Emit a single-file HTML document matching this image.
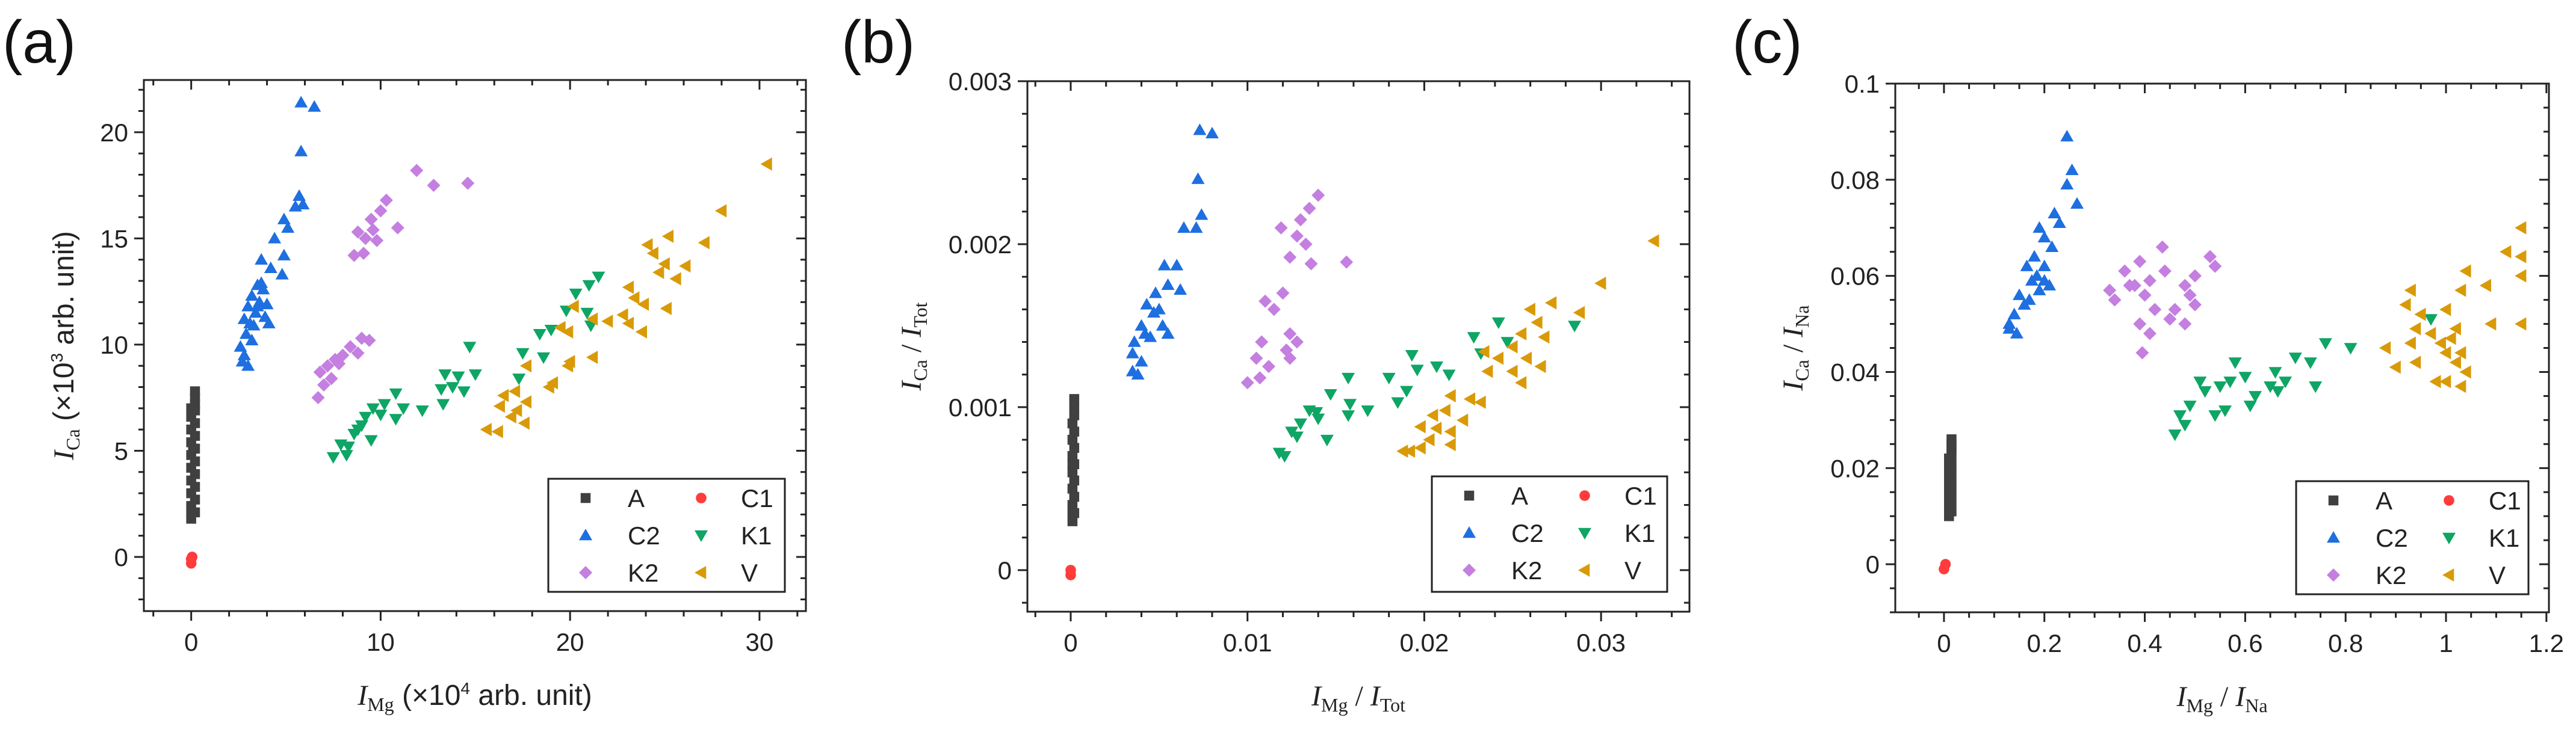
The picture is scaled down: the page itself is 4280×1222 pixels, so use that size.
<!DOCTYPE html>
<html><head><meta charset="utf-8"><style>
html,body{margin:0;padding:0;background:#fff;}
svg{display:block;font-family:"Liberation Sans",sans-serif;}
.ser{font-family:"Liberation Serif",serif;}
</style></head><body>
<svg id="fig" width="4280" height="1222" viewBox="0 0 4280 1222" xmlns="http://www.w3.org/2000/svg"></svg>
<script>
const seriesNames=["A","C1","C2","K1","K2","V"];
const seriesColors={A:"#404040",C1:"#ff3b3b",C2:"#1e6fe0",K1:"#0ea565",K2:"#c47fe0",V:"#d99a08"};
// Panel a data
const aA=[[0,1.8],[0.2,2.1],[0,2.4],[0.2,2.7],[0,3],[0.2,3.3],[0,3.6],[0.2,3.9],[0,4.2],[0.2,4.5],[0,4.8],[0.2,5.1],[0,5.4],[0.2,5.7],[0,6],[0.2,6.3],[0,6.6],[0.2,6.9],[0.2,7.2],[0.2,7.5],[0.2,7.8],[0,2.1],[0.1,5.1],[0,7.0]];
const aC1=[[0,-0.1],[0,-0.3],[0.05,0]];
const aC2=[[5.8,21.4],[6.5,21.2],[5.8,19.1],[5.7,17],[5.5,16.5],[5.9,16.6],[4.9,15.9],[5.1,15.5],[4.4,15],[4.9,14.2],[3.7,14],[4.2,13.6],[4.8,13.3],[3.5,12.8],[3.8,12.6],[3.2,12.3],[3.6,12],[3,11.8],[3.4,11.5],[3.9,11.3],[2.8,11.2],[3.3,10.9],[4.1,11],[2.9,10.5],[3.2,10.2],[2.6,9.9],[2.8,9.5],[2.7,9.2],[3,9],[3.5,11.8],[3.7,12.9],[4,11.9],[3.1,11]];
const aK1=[[21.5,13.2],[21,12.8],[20.3,12.4],[19.8,11.6],[20.9,11.5],[21.1,10.9],[19,10.7],[18.4,10.5],[17.5,9.6],[18.6,9.4],[14.7,9.9],[15,8.6],[13.4,8.6],[14.1,8.5],[13.8,8],[13.2,7.9],[14.4,7.8],[13.3,7.2],[10.8,7.7],[11.2,7],[10.2,7.2],[9.6,7],[10,6.7],[9.2,6.6],[10.8,6.5],[12.2,6.9],[9,6.2],[8.6,5.8],[9.5,5.5],[8.3,5.2],[7.9,5.3],[7.5,4.7],[8.2,4.8],[8.8,6],[17.3,8.4]];
const aK2=[[11.9,18.2],[12.8,17.5],[14.6,17.6],[10.3,16.8],[10,16.3],[9.5,15.9],[10.9,15.5],[8.8,15.3],[9.2,15],[9.8,14.9],[8.6,14.2],[9.1,14.3],[9.6,15.4],[9,10.3],[9.4,10.2],[8.8,9.6],[8.4,9.9],[7.6,9.3],[7.2,9],[6.8,8.7],[7.4,8.4],[7,8.1],[6.7,7.5],[8,9.5],[7.8,9.1]];
const aV=[[30.4,18.5],[28,16.3],[27.1,14.8],[24.1,14.7],[25.2,15.1],[24.4,14.3],[25,13.8],[26.1,13.7],[24.7,13.4],[25.6,13.1],[25.1,11.7],[23.1,12.7],[23.4,12.2],[23.9,11.9],[22.8,11.4],[22,11.1],[23.1,11],[21.2,11.2],[20.2,11.8],[19.9,10.6],[23.8,10.6],[21.2,9.4],[19.9,9],[18.9,8],[19.1,8.2],[17.7,9],[17.7,7.3],[17.2,6.9],[16.5,7.6],[16.3,7.1],[16.9,6.6],[17.1,7.8],[17.6,6.3],[15.6,6],[16.2,5.9],[20,9.2],[19.5,10.8]];
// Panel b data
const bA=[[0.0001,0.0003],[0.0002,0.00035],[0.0001,0.0004],[0.0002,0.00045],[0.0001,0.0005],[0.0002,0.00055],[0.0001,0.0006],[0.0002,0.00065],[0.0001,0.0007],[0.0002,0.00075],[0.0001,0.0008],[0.0002,0.00085],[0.0001,0.0009],[0.0002,0.00095],[0.0002,0.001],[0.0002,0.00105],[0.0001,0.00035],[0.0001,0.00065]];
const bC1=[[0,-0.00003],[0,0]];
const bC2=[[0.0073,0.0027],[0.008,0.00268],[0.0072,0.0024],[0.0074,0.00218],[0.0071,0.0021],[0.0064,0.0021],[0.006,0.00187],[0.0053,0.00187],[0.0055,0.00175],[0.0062,0.00172],[0.0048,0.0017],[0.0043,0.00163],[0.0047,0.00158],[0.0052,0.0015],[0.004,0.0015],[0.0036,0.0014],[0.0045,0.00143],[0.0055,0.00145],[0.0035,0.00133],[0.004,0.00128],[0.0035,0.00122],[0.0038,0.0012],[0.005,0.0016],[0.0042,0.00145]];
const bK1=[[0.0285,0.0015],[0.0242,0.00152],[0.0228,0.00143],[0.0232,0.00133],[0.0247,0.0014],[0.0193,0.00132],[0.0207,0.00125],[0.0214,0.0012],[0.0196,0.00123],[0.018,0.00118],[0.019,0.0011],[0.0185,0.00103],[0.0157,0.00118],[0.0147,0.00108],[0.0158,0.00102],[0.0168,0.00098],[0.0157,0.00095],[0.0135,0.00098],[0.014,0.00093],[0.013,0.0009],[0.0125,0.00085],[0.0128,0.00082],[0.0145,0.0008],[0.0118,0.00072],[0.0121,0.0007],[0.0139,0.00097]];
const bK2=[[0.014,0.0023],[0.0135,0.00222],[0.013,0.00215],[0.0128,0.00205],[0.0119,0.0021],[0.0124,0.00192],[0.0133,0.002],[0.0136,0.00188],[0.0156,0.00189],[0.012,0.0017],[0.011,0.00165],[0.0115,0.0016],[0.0124,0.00145],[0.0128,0.0014],[0.0122,0.00135],[0.0108,0.0014],[0.0105,0.0013],[0.0112,0.00125],[0.01,0.00115],[0.0107,0.00118],[0.0124,0.0013]];
const bV=[[0.033,0.00202],[0.03,0.00176],[0.0288,0.00158],[0.0272,0.00164],[0.026,0.0016],[0.0264,0.00152],[0.0255,0.00145],[0.0268,0.00143],[0.025,0.00137],[0.0242,0.0013],[0.0234,0.00134],[0.0258,0.0013],[0.0236,0.00122],[0.025,0.00122],[0.0266,0.00125],[0.0255,0.00115],[0.0226,0.00105],[0.0232,0.00103],[0.0215,0.00107],[0.0212,0.00098],[0.0205,0.00095],[0.0198,0.00088],[0.0207,0.00087],[0.0215,0.00085],[0.0222,0.00092],[0.0203,0.0008],[0.0192,0.00073],[0.0198,0.00075],[0.0215,0.00077],[0.0188,0.00073]];
// Panel c data
const cA=[[0.01,0.01],[0.015,0.011],[0.01,0.012],[0.015,0.013],[0.01,0.014],[0.015,0.015],[0.01,0.016],[0.015,0.017],[0.01,0.018],[0.015,0.019],[0.01,0.02],[0.015,0.021],[0.01,0.022],[0.015,0.023],[0.015,0.024],[0.015,0.025],[0.015,0.026],[0.012,0.011]];
const cC1=[[0,-0.001],[0.003,0]];
const cC2=[[0.245,0.089],[0.255,0.082],[0.245,0.079],[0.265,0.075],[0.22,0.073],[0.23,0.071],[0.19,0.07],[0.2,0.068],[0.215,0.066],[0.18,0.064],[0.165,0.062],[0.2,0.062],[0.175,0.059],[0.21,0.058],[0.15,0.056],[0.19,0.057],[0.16,0.054],[0.14,0.052],[0.17,0.055],[0.13,0.05],[0.145,0.048],[0.13,0.049],[0.185,0.06],[0.2,0.059]];
const cK1=[[0.97,0.051],[0.81,0.045],[0.76,0.046],[0.73,0.042],[0.74,0.037],[0.68,0.038],[0.66,0.04],[0.7,0.043],[0.65,0.037],[0.6,0.039],[0.58,0.042],[0.62,0.035],[0.61,0.033],[0.55,0.037],[0.57,0.038],[0.51,0.038],[0.52,0.036],[0.56,0.032],[0.54,0.031],[0.49,0.033],[0.47,0.031],[0.48,0.029],[0.46,0.027],[0.665,0.036]];
const cK2=[[0.435,0.066],[0.39,0.063],[0.53,0.064],[0.54,0.062],[0.36,0.061],[0.37,0.058],[0.41,0.059],[0.33,0.057],[0.34,0.055],[0.48,0.058],[0.5,0.06],[0.44,0.061],[0.4,0.056],[0.42,0.053],[0.46,0.053],[0.49,0.056],[0.5,0.054],[0.39,0.05],[0.41,0.048],[0.45,0.051],[0.48,0.05],[0.395,0.044],[0.38,0.058]];
const cV=[[1.15,0.07],[1.12,0.065],[1.15,0.064],[1.15,0.06],[1.04,0.061],[1.08,0.058],[1.03,0.057],[1.09,0.05],[1.15,0.05],[0.93,0.057],[0.92,0.054],[0.95,0.052],[0.94,0.049],[0.97,0.048],[0.93,0.046],[1,0.053],[1.02,0.049],[0.88,0.045],[0.9,0.041],[0.94,0.042],[0.99,0.046],[1,0.044],[1.03,0.044],[1.04,0.04],[1,0.038],[0.98,0.038],[1.03,0.037],[1.02,0.042],[1.01,0.047]];
// tick labels
const aXTicks=[0,10,20,30], aYTicks=[0,5,10,15,20];
const bXTicks=[0,0.01,0.02,0.03], bYTicks=[0,0.001,0.002,0.003];
const cXTicks=[0,0.2,0.4,0.6,0.8,1,1.2], cYTicks=[0,0.02,0.04,0.06,0.08,0.1];

const NS="http://www.w3.org/2000/svg";
const svg=document.getElementById('fig');
function mk(tag,attrs,parent){const e=document.createElementNS(NS,tag);for(const k in attrs)e.setAttribute(k,attrs[k]);(parent||svg).appendChild(e);return e;}

function marker(g,s,cx,cy,r){
  const c=seriesColors[s];let e;
  if(s==="A"){e=mk('rect',{x:cx-r*0.75,y:cy-r*0.75,width:r*1.5,height:r*1.5,fill:c},g);}
  else if(s==="C1"){e=mk('circle',{cx:cx,cy:cy,r:r*0.8,fill:c},g);}
  else if(s==="C2"){e=mk('polygon',{points:`${cx},${cy-r} ${cx-r},${cy+r*0.75} ${cx+r},${cy+r*0.75}`,fill:c},g);}
  else if(s==="K1"){e=mk('polygon',{points:`${cx},${cy+r} ${cx-r},${cy-r*0.75} ${cx+r},${cy-r*0.75}`,fill:c},g);}
  else if(s==="K2"){e=mk('polygon',{points:`${cx},${cy-r} ${cx+r},${cy} ${cx},${cy+r} ${cx-r},${cy}`,fill:c},g);}
  else {e=mk('polygon',{points:`${cx-r},${cy} ${cx+r*0.75},${cy-r} ${cx+r*0.75},${cy+r}`,fill:c},g);}
  return e;
}

function panel(p){
  const g=mk('g',{});
  
  
  const sx=v=>p.L+(v-p.x0)/(p.x1-p.x0)*(p.R-p.L);
  const sy=v=>p.B-(v-p.y0)/(p.y1-p.y0)*(p.B-p.T);
  const tg=mk('g',{stroke:'#222','stroke-width':3},g);
  
  
  const eps=1e-9;
  for(let i=Math.ceil((p.x0)/p.xm-eps);i*p.xm<=p.x1+eps;i++){
    const v=i*p.xm,x=sx(v);
    const major=p.xt.some(t=>Math.abs(t-v)<p.xm*0.01);
    const len=major?16:9;
    mk('line',{x1:x,x2:x,y1:p.B,y2:p.B+len},tg);
    mk('line',{x1:x,x2:x,y1:p.T,y2:p.T+len},tg);
  }
  for(let i=Math.ceil((p.y0)/p.ym-eps);i*p.ym<=p.y1+eps;i++){
    const v=i*p.ym,y=sy(v);
    const major=p.yt.some(t=>Math.abs(t-v)<p.ym*0.01);
    const len=major?16:9;
    mk('line',{x1:p.L-len,x2:p.L,y1:y,y2:y},tg);
    mk('line',{x1:p.R-len,x2:p.R,y1:y,y2:y},tg);
  }
  const fr=mk('rect',{x:p.L,y:p.T,width:p.R-p.L,height:p.B-p.T,fill:'none',stroke:'#222','stroke-width':3},g);
  
  
  p.xt.forEach((t,i)=>{const e=mk('text',{x:sx(t),y:p.B+66,'text-anchor':'middle','font-size':42,fill:'#222'},g);e.textContent=p.xl[i];
    
    });
  p.yt.forEach((t,i)=>{const e=mk('text',{x:p.L-26,y:sy(t)+15,'text-anchor':'end','font-size':42,fill:'#222'},g);e.textContent=p.yl[i];
    
    });
  seriesNames.forEach(s=>{
    const sg=mk('g',{},g);
    
    
    p.data[s].forEach(d=>{const m=marker(sg,s,sx(d[0]),sy(d[1]),11);
      
      });
  });
  const lg=mk('g',{},g);
  
  
  mk('rect',{x:p.lg[0],y:p.lg[1],width:p.lg[2],height:p.lg[3],fill:'#fff',stroke:'#222','stroke-width':3},lg);
  const rows=[["A","C1"],["C2","K1"],["K2","V"]];
  rows.forEach((r,ri)=>r.forEach((s,ci)=>{
    const cy=p.lg[1]+32+ri*62;
    const mx=p.lg[0]+62+ci*192;
    const le=mk('g',{},lg);
    
    
    marker(le,s,mx,cy,11);
    const t=mk('text',{x:mx+(ci?66:70),y:cy+15,'font-size':42,fill:'#222'},le);t.textContent=s;
  }));
  const xt=mk('text',{x:(p.L+p.R)/2,y:p.B+156,'text-anchor':'middle','font-size':48,fill:'#222'},g);
  
  
  xt.innerHTML=p.xTitle;
  const yc=(p.T+p.B)/2;
  const yt=mk('text',{x:p.ytx,y:yc,'text-anchor':'middle','font-size':48,fill:'#222',transform:`rotate(-90 ${p.ytx} ${yc})`},g);
  
  
  yt.innerHTML=p.yTitle;
  const pl=mk('text',{x:p.plx,y:104,'font-size':100,fill:'#111'},g);
  
  
  pl.textContent='('+p.id+')';
}
panel({id:'a',L:239,R:1339,T:133,B:1016,x0:-2.5,x1:32.45,y0:-2.55,y1:22.46,xm:2,ym:1,
  xt:aXTicks,xl:aXTicks.map(String),yt:aYTicks,yl:aYTicks.map(String),
  data:{A:aA,C1:aC1,C2:aC2,K1:aK1,K2:aK2,V:aV},lg:[911,796,393,188],
  xTitle:`<tspan class="ser" font-style="italic">I</tspan><tspan class="ser" font-size="32" dy="10">Mg</tspan><tspan dy="-10"> (×10</tspan><tspan font-size="28" dy="-18">4</tspan><tspan dy="18"> arb. unit)</tspan>`,
  yTitle:`<tspan class="ser" font-style="italic">I</tspan><tspan class="ser" font-size="32" dy="10">Ca</tspan><tspan dy="-10"> (×10</tspan><tspan font-size="28" dy="-18">3</tspan><tspan dy="18"> arb. unit)</tspan>`,
  ytx:122,plx:4});
panel({id:'b',L:1707,R:2807,T:135,B:1017,x0:-0.00245,x1:0.035,y0:-0.000255,y1:0.003,xm:0.002,ym:0.0002,
  xt:bXTicks,xl:["0","0.01","0.02","0.03"],yt:bYTicks,yl:["0","0.001","0.002","0.003"],
  data:{A:bA,C1:bC1,C2:bC2,K1:bK1,K2:bK2,V:bV},lg:[2379,792,391,192],
  xTitle:`<tspan class="ser" font-style="italic">I</tspan><tspan class="ser" font-size="32" dy="10">Mg</tspan><tspan class="ser" dy="-10"> / </tspan><tspan class="ser" font-style="italic">I</tspan><tspan class="ser" font-size="32" dy="10">Tot</tspan>`,
  yTitle:`<tspan class="ser" font-style="italic">I</tspan><tspan class="ser" font-size="32" dy="10">Ca</tspan><tspan class="ser" dy="-10"> / </tspan><tspan class="ser" font-style="italic">I</tspan><tspan class="ser" font-size="32" dy="10">Tot</tspan>`,
  ytx:1530,plx:1398});
panel({id:'c',L:3149,R:4235,T:139,B:1018,x0:-0.097,x1:1.205,y0:-0.01,y1:0.1,xm:0.05,ym:0.005,
  xt:cXTicks,xl:["0","0.2","0.4","0.6","0.8","1","1.2"],yt:cYTicks,yl:["0","0.02","0.04","0.06","0.08","0.1"],
  data:{A:cA,C1:cC1,C2:cC2,K1:cK1,K2:cK2,V:cV},lg:[3815,800,386,188],
  xTitle:`<tspan class="ser" font-style="italic">I</tspan><tspan class="ser" font-size="32" dy="10">Mg</tspan><tspan class="ser" dy="-10"> / </tspan><tspan class="ser" font-style="italic">I</tspan><tspan class="ser" font-size="32" dy="10">Na</tspan>`,
  yTitle:`<tspan class="ser" font-style="italic">I</tspan><tspan class="ser" font-size="32" dy="10">Ca</tspan><tspan class="ser" dy="-10"> / </tspan><tspan class="ser" font-style="italic">I</tspan><tspan class="ser" font-size="32" dy="10">Na</tspan>`,
  ytx:2995,plx:2878});
</script>
</body></html>
